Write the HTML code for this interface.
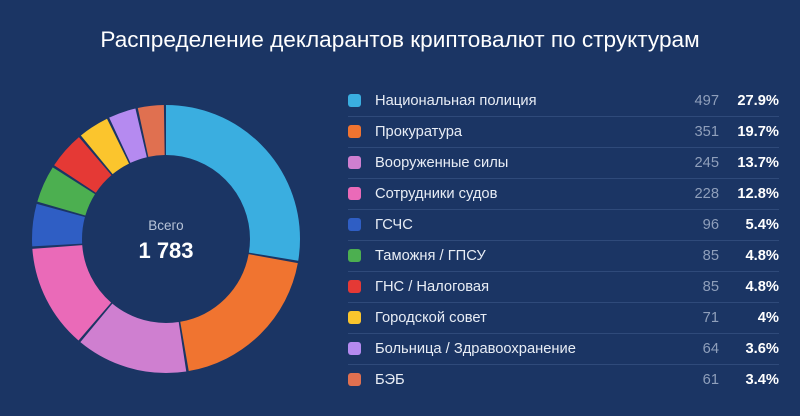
<!DOCTYPE html>
<html><head><meta charset="utf-8"><style>
body{margin:0;width:800px;height:416px;background:#1b3564;font-family:"Liberation Sans",sans-serif;color:#fff;position:relative;overflow:hidden}
h1{position:absolute;top:27px;left:0;width:800px;text-align:center;margin:0;font-weight:normal;font-size:22.6px;color:#fff}
.row{position:absolute;left:348px;width:431px;height:31px;border-bottom:1px solid #2f4a7a}
.sq{position:absolute;left:0;top:9px;width:13px;height:13px;border-radius:3px}
.lb{position:absolute;left:27px;top:8px;font-size:14.7px;color:#e8edf5}
.ct{position:absolute;right:60px;top:8px;font-size:14.7px;color:#8f9fbb}
.pc{position:absolute;right:0;top:8px;font-size:14.7px;font-weight:bold;color:#fff}
</style></head><body>
<h1>Распределение декларантов криптовалют по структурам</h1>
<svg width="800" height="416" style="position:absolute;left:0;top:0">
<g transform="rotate(-90 166 239)" fill="none" stroke-width="50">
<circle cx="166" cy="239" r="109" stroke="#3aaee0" stroke-dasharray="188.9 700" stroke-dashoffset="0"/>
<circle cx="166" cy="239" r="109" stroke="#f07430" stroke-dasharray="132.8 700" stroke-dashoffset="-190.9"/>
<circle cx="166" cy="239" r="109" stroke="#cf7fd0" stroke-dasharray="92.1 700" stroke-dashoffset="-325.72"/>
<circle cx="166" cy="239" r="109" stroke="#ea6ab8" stroke-dasharray="85.6 700" stroke-dashoffset="-419.83"/>
<circle cx="166" cy="239" r="109" stroke="#2f5ec4" stroke-dasharray="34.9 700" stroke-dashoffset="-507.41"/>
<circle cx="166" cy="239" r="109" stroke="#4caf50" stroke-dasharray="30.6 700" stroke-dashoffset="-544.29"/>
<circle cx="166" cy="239" r="109" stroke="#e53935" stroke-dasharray="30.6 700" stroke-dashoffset="-576.94"/>
<circle cx="166" cy="239" r="109" stroke="#fbc52d" stroke-dasharray="25.3 700" stroke-dashoffset="-609.59"/>
<circle cx="166" cy="239" r="109" stroke="#b58af0" stroke-dasharray="22.6 700" stroke-dashoffset="-636.86"/>
<circle cx="166" cy="239" r="109" stroke="#e07050" stroke-dasharray="21.4 700" stroke-dashoffset="-661.44"/>
</g>
<text x="166" y="230" text-anchor="middle" font-size="13.5" fill="#b8c4d8" font-family="Liberation Sans">Всего</text>
<text x="166" y="258" text-anchor="middle" font-size="22" font-weight="bold" fill="#fff" font-family="Liberation Sans">1 783</text>
</svg>
<div style="position:absolute;top:85px;left:0">
<div class="row" style="top:0"><div class="sq" style="background:#3aaee0"></div><div class="lb">Национальная полиция</div><div class="ct">497</div><div class="pc">27.9%</div></div>
<div class="row" style="top:31px"><div class="sq" style="background:#f07430"></div><div class="lb">Прокуратура</div><div class="ct">351</div><div class="pc">19.7%</div></div>
<div class="row" style="top:62px"><div class="sq" style="background:#cf7fd0"></div><div class="lb">Вооруженные силы</div><div class="ct">245</div><div class="pc">13.7%</div></div>
<div class="row" style="top:93px"><div class="sq" style="background:#ea6ab8"></div><div class="lb">Сотрудники судов</div><div class="ct">228</div><div class="pc">12.8%</div></div>
<div class="row" style="top:124px"><div class="sq" style="background:#2f5ec4"></div><div class="lb">ГСЧС</div><div class="ct">96</div><div class="pc">5.4%</div></div>
<div class="row" style="top:155px"><div class="sq" style="background:#4caf50"></div><div class="lb">Таможня / ГПСУ</div><div class="ct">85</div><div class="pc">4.8%</div></div>
<div class="row" style="top:186px"><div class="sq" style="background:#e53935"></div><div class="lb">ГНС / Налоговая</div><div class="ct">85</div><div class="pc">4.8%</div></div>
<div class="row" style="top:217px"><div class="sq" style="background:#fbc52d"></div><div class="lb">Городской совет</div><div class="ct">71</div><div class="pc">4%</div></div>
<div class="row" style="top:248px"><div class="sq" style="background:#b58af0"></div><div class="lb">Больница / Здравоохранение</div><div class="ct">64</div><div class="pc">3.6%</div></div>
<div class="row" style="top:279px;border-bottom:none"><div class="sq" style="background:#e07050"></div><div class="lb">БЭБ</div><div class="ct">61</div><div class="pc">3.4%</div></div>
</div>
</body></html>
